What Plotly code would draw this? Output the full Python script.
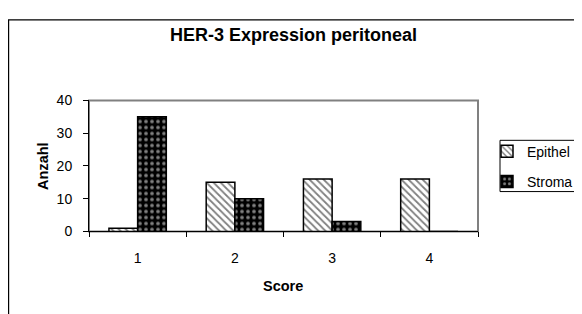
import plotly.graph_objects as go

categories = ["1", "2", "3", "4"]
epithel = [1, 15, 16, 16]
stroma = [35, 10, 3, 0]
y_ticks = [0, 10, 20, 30, 40]

W, H = 582, 314
OFF = 8  # page body margin
def px(x): return (x - OFF) / W
def py(y): return (H - (y - OFF)) / H

FONT = "Arial, Liberation Sans, sans-serif"

fig = go.Figure()
fig.add_trace(go.Bar(
    name="Epithel", x=categories, y=epithel, legendgroup="a",
    marker=dict(color="white", line=dict(color="black", width=1.5),
                pattern=dict(shape="\\", size=5, solidity=0.35,
                             fgcolor="black", bgcolor="white")),
))
fig.add_trace(go.Bar(
    name="Stroma", x=categories, y=stroma, legendgroup="b",
    marker=dict(color="black", line=dict(color="black", width=1.5),
                pattern=dict(shape=".", size=6, solidity=0.3,
                             fgcolor="white", bgcolor="black")),
))

x0, x1 = px(89), px(478)
y0, y1 = py(235), py(97)

fig.update_layout(
    width=W, height=H,
    margin=dict(l=0, r=0, t=0, b=0),
    paper_bgcolor="white", plot_bgcolor="white",
    font=dict(family=FONT, size=14, color="black"),
    barmode="group", bargap=0.41, bargroupgap=0,
    showlegend=True,
    legend=dict(x=px(487), y=py(134), xanchor="left", yanchor="top",
                borderwidth=0, bgcolor="rgba(0,0,0,0)",
                font=dict(size=14, family=FONT), tracegroupgap=9,
                itemwidth=30),
    xaxis=dict(domain=[x0, x1], showline=True, linecolor="black", linewidth=1,
               ticks="outside", ticklen=5, tickcolor="black", tickson="boundaries",
               showgrid=False, ticklabelstandoff=14, mirror=False,
               tickfont=dict(size=14)),
    yaxis=dict(domain=[y0, y1], range=[0, 40], tickvals=y_ticks,
               showline=True, linecolor="black", linewidth=1,
               ticks="outside", ticklen=5, tickcolor="black",
               showgrid=False, zeroline=False, ticklabelstandoff=8,
               tickfont=dict(size=14)),
    shapes=[
        dict(type="rect", xref="paper", yref="paper", x0=x0, x1=x1, y0=y0, y1=y1,
             line=dict(color="#808080", width=2), layer="below"),
        dict(type="rect", xref="paper", yref="paper", x0=0.6 / W, x1=1.2,
             y0=-0.2, y1=py(12), line=dict(color="black", width=1.2), layer="below"),
        dict(type="rect", xref="paper", yref="paper", x0=px(500), x1=px(578),
             y0=py(193), y1=py(139), line=dict(color="black", width=1),
             fillcolor="white", layer="below"),
    ],
    annotations=[
        dict(text="<b>HER-3 Expression peritoneal</b>", xref="paper", yref="paper",
             x=px(293), y=py(28), showarrow=False, font=dict(size=18, family=FONT),
             xanchor="center", yanchor="middle"),
        dict(text="<b>Anzahl</b>", xref="paper", yref="paper", x=px(43), y=py(166),
             showarrow=False, textangle=-90, font=dict(size=14.5, family=FONT),
             xanchor="center", yanchor="middle"),
        dict(text="<b>Score</b>", xref="paper", yref="paper", x=px(283), y=py(292),
             showarrow=False, font=dict(size=14.5, family=FONT),
             xanchor="center", yanchor="middle"),
    ],
)

fig.write_html("out.html")
